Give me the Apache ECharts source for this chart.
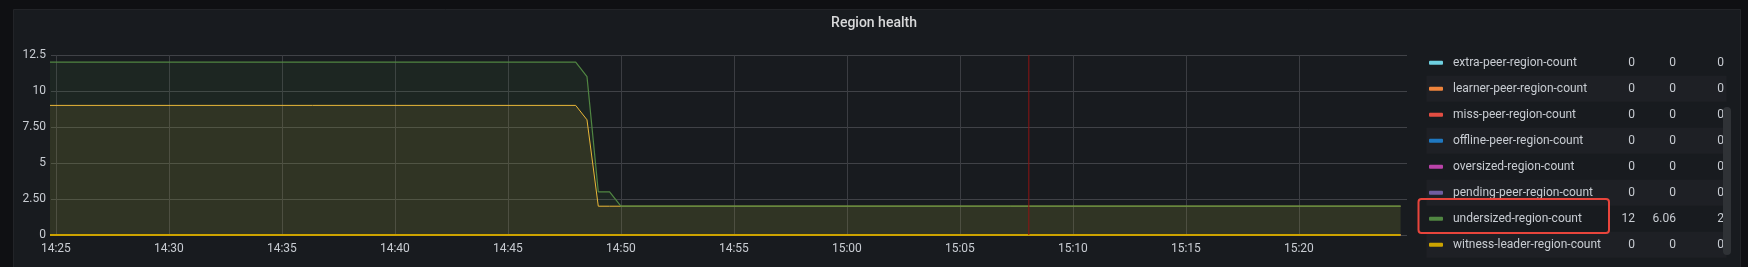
<!DOCTYPE html>
<html>
<head>
<meta charset="utf-8">
<script src="https://cdn.jsdelivr.net/npm/echarts@6/dist/echarts.min.js"></script>
<style>
  html, body { margin: 0; padding: 0; background: #0f1013; }
  #chart { width: 1748px; height: 267px; }
</style>
</head>
<body>
<div id="chart"></div>
<script>
// ---- data ----
const day = [2024, 0, 1];
const keyTimes = ['14:24:30', '14:48:00', '14:48:30', '14:49:00', '14:49:30', '14:50:00', '15:24:30'];
const undersizedValues = [12, 12, 11, 3, 3, 2, 2];
const emptyValues = [9, 9, 8, 2, 2, 2, 2];
const zeroValues = [0, 0, 0, 0, 0, 0, 0];

const legendNames = [
  'extra-peer-region-count',
  'learner-peer-region-count',
  'miss-peer-region-count',
  'offline-peer-region-count',
  'oversized-region-count',
  'pending-peer-region-count',
  'undersized-region-count',
  'witness-leader-region-count'
];
const legendColors = ['#6ED0E0', '#EF843C', '#E24D42', '#1F78C1', '#BA43A9', '#705DA0', '#508642', '#CCA300'];
const legendMax = ['0', '0', '0', '0', '0', '0', '12', '0'];
const legendAvg = ['0', '0', '0', '0', '0', '0', '6.06', '0'];
const legendCurrent = ['0', '0', '0', '0', '0', '0', '2', '0'];

const hiddenName = 'empty-region-count';
const hiddenColor = '#EAB839';

const xTickTimes = ['14:25:00', '14:30:00', '14:35:00', '14:40:00', '14:45:00', '14:50:00',
  '14:55:00', '15:00:00', '15:05:00', '15:10:00', '15:15:00', '15:20:00'];
const yTickValues = [0, 2.5, 5, 7.5, 10, 12.5];
const yTickLabels = ['0', '2.50', '5', '7.50', '10', '12.5'];

const rangeStart = '14:24:47';
const rangeEnd = '15:24:47';
const annotationTime = '15:08:03';

// ---- helpers ----
function t(s) {
  const p = s.split(':').map(Number);
  return new Date(day[0], day[1], day[2], p[0], p[1], p[2]).getTime();
}
function pairs(vals) { return keyTimes.map((k, i) => [t(k), vals[i]]); }
function hhmm(v) {
  const d = new Date(v);
  return String(d.getHours()).padStart(2, '0') + ':' + String(d.getMinutes()).padStart(2, '0');
}

const FONT = 'Roboto';
const TEXT = '#c8ccd2';
const yMin = yTickValues[0];
const yMax = yTickValues[yTickValues.length - 1];

function lineSeries(name, color, vals, width) {
  return {
    name: name, type: 'line', data: pairs(vals),
    showSymbol: false, symbol: 'none', animation: false,
    lineStyle: { color: color, width: width },
    itemStyle: { color: color },
    areaStyle: { color: color, opacity: 0.1 },
    emphasis: { disabled: true }, silent: true
  };
}

const series = [];
series.push(lineSeries(hiddenName, hiddenColor, emptyValues, 1));
legendNames.forEach((n, i) => {
  let vals = zeroValues;
  if (n === 'undersized-region-count') vals = undersizedValues;
  const isZero = vals === zeroValues;
  series.push(lineSeries(n, legendColors[i], vals, isZero ? 2 : 1.2));
});
// annotation marker (vertical red line at the annotation time, full axis height)
series.push({
  name: 'annotation', type: 'line', silent: true, animation: false, clip: false,
  data: [[t(annotationTime), yMin], [t(annotationTime), yMax]],
  showSymbol: false, symbol: 'none',
  lineStyle: { color: '#8c1414', width: 1 },
  emphasis: { disabled: true }
});

const rowH = 26;
const firstRowCenter = 62.7;
const textH = 14;
const graphics = [
  { type: 'rect', z: -100, shape: { x: 13.5, y: 9.5, width: 1727, height: 262 },
    style: { fill: '#181b1f', stroke: '#222428', lineWidth: 1 } }
];
legendNames.forEach((n, i) => {
  if (i % 2 === 1) {
    graphics.push({ type: 'rect', z: -50,
      shape: { x: 1426.5, y: firstRowCenter - rowH / 2 + i * rowH, width: 300, height: rowH },
      style: { fill: '#1e2025' } });
  }
});
graphics.push({ type: 'rect', z: 100, shape: { x: 1723, y: 107, width: 8, height: 148, r: 4 },
  style: { fill: '#2f3236' } });
graphics.push({ type: 'rect', z: 100, shape: { x: 1418.5, y: 199, width: 190.5, height: 34, r: 3 },
  style: { fill: 'none', stroke: '#e8453c', lineWidth: 2 } });

const xTicks = xTickTimes.map(t);

const chart = echarts.init(document.getElementById('chart'), null, { renderer: 'canvas' });
chart.setOption({
  backgroundColor: '#0f1013',
  animation: false,
  title: {
    text: 'Region health', left: 'center', top: 16, padding: 0,
    textStyle: { color: '#d8d9da', fontSize: 14, fontWeight: 500, fontFamily: FONT }
  },
  grid: { left: 51, top: 55, width: 1356, height: 180 },
  xAxis: {
    type: 'value',
    min: t(rangeStart), max: t(rangeEnd),
    axisLine: { show: false },
    axisTick: { show: false, customValues: xTicks },
    splitLine: { show: true, lineStyle: { color: '#3b3d42', width: 1 } },
    axisLabel: {
      customValues: xTicks,
      formatter: hhmm, color: TEXT, fontSize: 12, fontFamily: FONT, margin: 8,
      hideOverlap: false
    }
  },
  yAxis: {
    type: 'value', min: yMin, max: yMax, interval: 2.5,
    axisLine: { show: false }, axisTick: { show: false },
    splitLine: { show: true, lineStyle: { color: '#404247', width: 1 } },
    axisLabel: {
      color: TEXT, fontSize: 12, fontFamily: FONT, margin: 5,
      formatter: function (v) {
        const i = yTickValues.findIndex(x => Math.abs(x - v) < 1e-9);
        return i >= 0 ? yTickLabels[i] : '';
      }
    }
  },
  legend: {
    data: legendNames, orient: 'vertical', left: 1429, top: firstRowCenter - textH / 2, padding: 0,
    itemWidth: 14, itemHeight: 4, itemGap: rowH - textH, icon: 'roundRect',
    selectedMode: false,
    textStyle: {
      color: TEXT, fontSize: 12, fontFamily: FONT, lineHeight: textH,
      rich: {
        n: { width: 160, lineHeight: textH, padding: [0, 0, 0, 5], color: TEXT, fontSize: 12, fontFamily: FONT },
        a: { width: 22, align: 'right', lineHeight: textH, color: TEXT, fontSize: 12, fontFamily: FONT },
        b: { width: 41, align: 'right', lineHeight: textH, color: TEXT, fontSize: 12, fontFamily: FONT },
        c: { width: 48, align: 'right', lineHeight: textH, color: TEXT, fontSize: 12, fontFamily: FONT }
      }
    },
    formatter: function (name) {
      const i = legendNames.indexOf(name);
      return '{n|' + name + '}{a|' + legendMax[i] + '}{b|' + legendAvg[i] + '}{c|' + legendCurrent[i] + '}';
    }
  },
  graphic: graphics,
  series: series
});
</script>
</body>
</html>
